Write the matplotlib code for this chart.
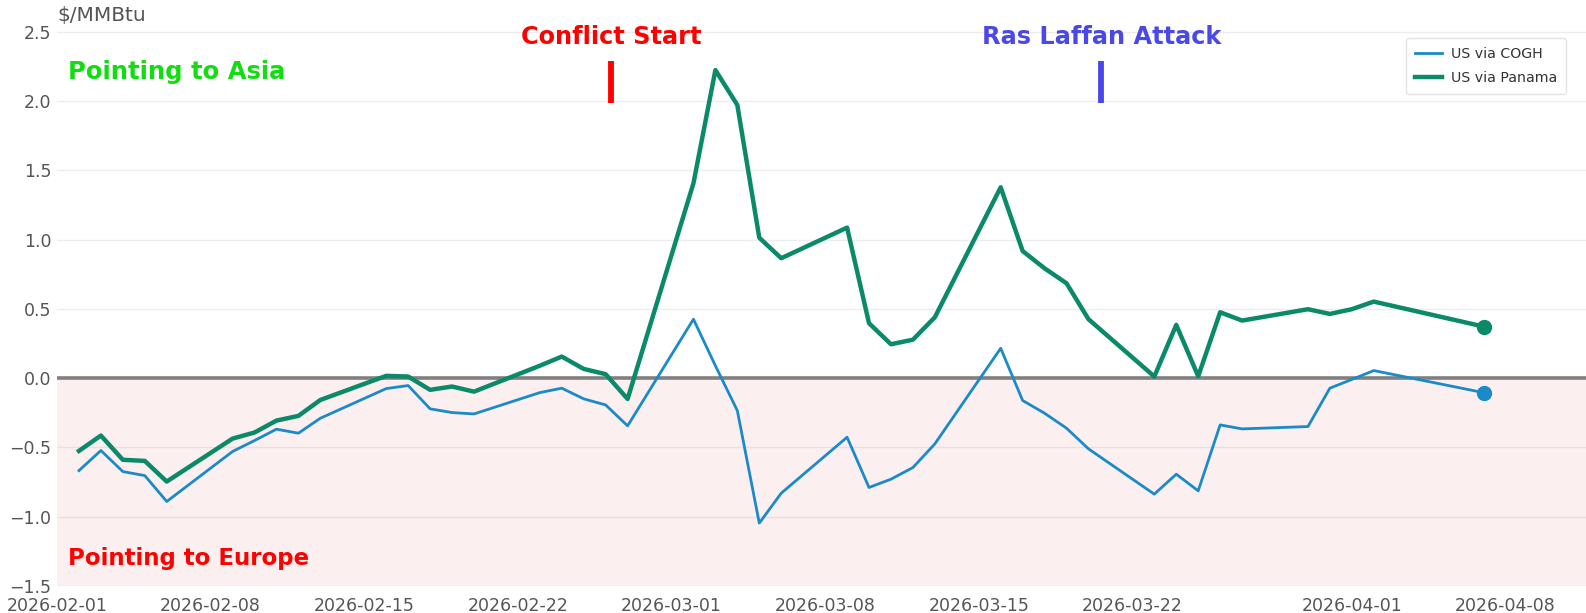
import matplotlib

matplotlib.use("Agg")
import matplotlib.pyplot as plt
import matplotlib.dates as mdates
import numpy as np
import pandas as pd

# business days shown on the chart
dates = [
    "2026-02-02", "2026-02-03", "2026-02-04", "2026-02-05", "2026-02-06",
    "2026-02-09", "2026-02-10", "2026-02-11", "2026-02-12", "2026-02-13",
    "2026-02-16", "2026-02-17", "2026-02-18", "2026-02-19", "2026-02-20",
    "2026-02-23", "2026-02-24", "2026-02-25", "2026-02-26", "2026-02-27",
    "2026-03-02", "2026-03-03", "2026-03-04", "2026-03-05", "2026-03-06",
    "2026-03-09", "2026-03-10", "2026-03-11", "2026-03-12", "2026-03-13",
    "2026-03-16", "2026-03-17", "2026-03-18", "2026-03-19", "2026-03-20",
    "2026-03-23", "2026-03-24", "2026-03-25", "2026-03-26", "2026-03-27",
    "2026-03-30", "2026-03-31", "2026-04-01", "2026-04-02", "2026-04-07",
]

us_via_cogh = [
    -0.667, -0.522, -0.674, -0.703, -0.890,
    -0.529, -0.450, -0.368, -0.397, -0.289,
    -0.075, -0.053, -0.221, -0.248, -0.258,
    -0.104, -0.072, -0.149, -0.193, -0.344,
    0.426, 0.090, -0.234, -1.046, -0.830,
    -0.426, -0.789, -0.729, -0.645, -0.474,
    0.216, -0.161, -0.253, -0.361, -0.510,
    -0.837, -0.693, -0.813, -0.337, -0.366,
    -0.349, -0.072, -0.009, 0.055, -0.104,
]

us_via_panama = [
    -0.525, -0.414, -0.589, -0.597, -0.746,
    -0.436, -0.392, -0.306, -0.272, -0.157,
    0.017, 0.012, -0.084, -0.060, -0.097,
    0.090, 0.156, 0.067, 0.029, -0.150,
    1.407, 2.224, 1.972, 1.014, 0.866,
    1.087, 0.397, 0.245, 0.278, 0.440,
    1.378, 0.918, 0.793, 0.685, 0.426,
    0.012, 0.385, 0.014, 0.476, 0.416,
    0.498, 0.464, 0.498, 0.553, 0.373,
]

events = ["Conflict Start", "Ras Laffan Attack"]
event_dates = ["2026-02-26 06:00", "2026-03-20 14:00"]
event_colors = ["#ff0000", "#4b48e8"]

xticks = ["2026-02-01", "2026-02-08", "2026-02-15", "2026-02-22", "2026-03-01",
          "2026-03-08", "2026-03-15", "2026-03-22", "2026-04-01", "2026-04-08"]
yticks = [-1.5, -1.0, -0.5, 0.0, 0.5, 1.0, 1.5, 2.0, 2.5]

BLUE = "#1a8ac8"
GREEN = "#0b8a6a"
TICK_GREY = "#555555"

plt.rcParams["font.family"] = ["DejaVu Sans"]

df = pd.DataFrame({"date": pd.to_datetime(dates), "cogh": us_via_cogh, "panama": us_via_panama})

W, H = 1586, 613
fig = plt.figure(figsize=(W / 100, H / 100), dpi=100)
ax = fig.add_axes([57 / W, 27 / H, (W - 57) / W, (H - 27) / H])

x0 = pd.Timestamp("2026-02-01")
ax.set_xlim(x0, x0 + pd.Timedelta(days=69.67))
ax.set_ylim(-1.5, 2.73)

# shaded "Europe" region below zero
ax.axhspan(-1.5, 0, color="#fcefef", zorder=0, lw=0)
for y in yticks:
    ax.axhline(y, color="#888888", alpha=0.15, lw=1, zorder=1)
ax.axhline(0, color="#808080", lw=2.6, zorder=2)

ax.plot(df["date"], df["cogh"], color=BLUE, lw=2.0, label="US via COGH", zorder=3)
ax.plot(df["date"], df["panama"], color=GREEN, lw=3.2, label="US via Panama", zorder=4)
ax.plot(df["date"].iloc[-1], df["cogh"].iloc[-1], "o", color=BLUE, ms=10, zorder=5)
ax.plot(df["date"].iloc[-1], df["panama"].iloc[-1], "o", color=GREEN, ms=10, zorder=5)

for name, d, c in zip(events, event_dates, event_colors):
    t = pd.Timestamp(d)
    ax.plot([t, t], [1.99, 2.29], color=c, lw=4.2, solid_capstyle="butt", zorder=5)
    ax.text(t, 2.465, name, color=c, fontsize=17.3, fontweight="bold",
            ha="center", va="center", zorder=6)

left_txt = x0 + pd.Timedelta(days=0.5)
ax.text(left_txt, 2.21, "Pointing to Asia", color="#11dd11", fontsize=17.5,
        fontweight="bold", ha="left", va="center", zorder=6)
ax.text(left_txt, -1.30, "Pointing to Europe", color="#ff0000", fontsize=16.5,
        fontweight="bold", ha="left", va="center", zorder=6)

for s in ax.spines.values():
    s.set_visible(False)

ax.set_yticks(yticks)
ax.set_yticklabels([f"{v:.1f}".replace("-", "\u2212") for v in yticks])
ax.set_xticks(pd.to_datetime(xticks))
ax.xaxis.set_major_formatter(mdates.DateFormatter("%Y-%m-%d"))
ax.tick_params(axis="both", length=0, colors=TICK_GREY, labelsize=12.5)
ax.tick_params(axis="y", pad=4)
ax.tick_params(axis="x", pad=8)

fig.text(57 / W, 1 - 16 / H, "$/MMBtu", color=TICK_GREY, fontsize=14.5,
         ha="left", va="center")

leg = ax.legend(loc="upper right", bbox_to_anchor=(1566 / W, 1 - 38 / H),
                bbox_transform=fig.transFigure, fontsize=10.2, frameon=True,
                fancybox=True, handlelength=1.9, handletextpad=0.6,
                borderpad=0.65, labelspacing=0.7, borderaxespad=0)
leg.get_frame().set_edgecolor("#dddddd")
leg.get_frame().set_linewidth(1.0)
for t in leg.get_texts():
    t.set_color("#333333")

fig.savefig("out.png", dpi=100)
